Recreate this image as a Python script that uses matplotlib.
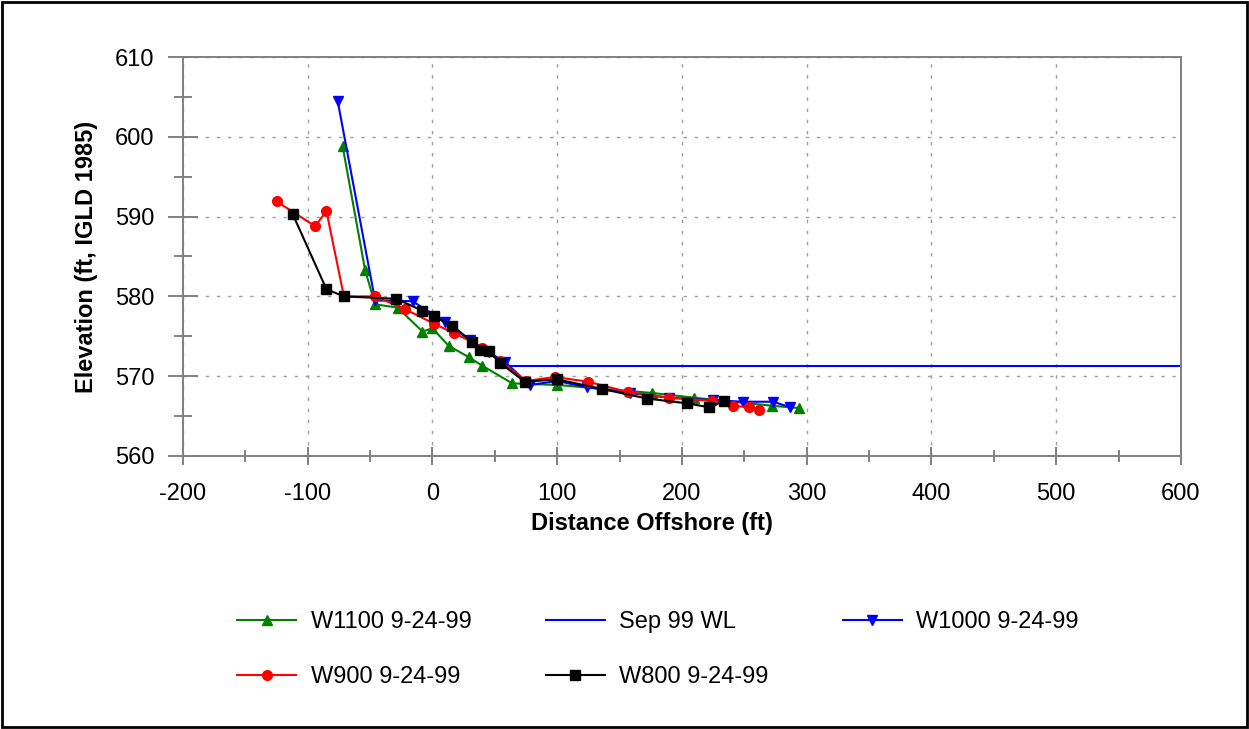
"""Beach profiles, 9-24-99"""
import matplotlib
matplotlib.use("Agg")
import matplotlib.pyplot as plt
from matplotlib.patches import Rectangle

plt.rcParams['font.family'] = ['Liberation Sans', 'DejaVu Sans']
plt.rcParams['axes.unicode_minus'] = False

w1100_x = [-72, -54, -46, -28, -8, 0, 13, 29, 40, 64, 100, 176, 210, 272, 294]
w1100_y = [598.8, 583.3, 579.0, 578.6, 575.6, 576.0, 573.8, 572.4, 571.3, 569.1,
           568.9, 567.9, 567.3, 566.3, 566.0]

wl_x = [60, 600]
wl_y = [571.3, 571.3]

w1000_x = [-76, -46, -16, 10, 30, 45, 58, 78, 100, 124, 158, 190, 225, 249, 273, 287]
w1000_y = [604.5, 579.5, 579.4, 576.8, 574.5, 573.0, 571.8, 568.9, 569.4, 568.6,
           567.9, 567.3, 567.0, 566.8, 566.8, 566.1]

w900_x = [-125, -94, -85, -71, -46, -22, 1, 17, 32, 40, 54, 75, 98, 125, 157, 190,
          224, 241, 254, 262]
w900_y = [591.9, 588.8, 590.7, 580.0, 580.0, 578.4, 576.6, 575.4, 574.3, 573.5,
          571.9, 569.4, 569.9, 569.3, 568.0, 567.3, 566.9, 566.3, 566.1, 565.8]

w800_x = [-112, -85, -71, -29, -8, 1, 16, 32, 38, 45, 54, 74, 100, 136, 172, 204,
          222, 234]
w800_y = [590.3, 580.9, 580.0, 579.7, 578.2, 577.5, 576.3, 574.3, 573.3, 573.2,
          571.7, 569.3, 569.6, 568.4, 567.2, 566.6, 566.1, 566.9]

fig = plt.figure(figsize=(12.49, 7.29), dpi=100)
ax = fig.add_axes([0.1465, 0.3745, 0.799, 0.5473])

lw = 1.5
h1, = ax.plot(w1100_x, w1100_y, color="green", marker="^", ms=7.5, lw=lw, label="W1100 9-24-99")
h2, = ax.plot(wl_x, wl_y, color="blue", lw=lw, label="Sep 99 WL")
h3, = ax.plot(w1000_x, w1000_y, color="blue", marker="v", ms=7.5, lw=lw, label="W1000 9-24-99")
h4, = ax.plot(w900_x, w900_y, color="red", marker="o", ms=7, lw=lw, label="W900 9-24-99")
h5, = ax.plot(w800_x, w800_y, color="black", marker="s", ms=7, lw=lw, label="W800 9-24-99")

ax.set_xlim(-200, 600)
ax.set_ylim(560, 610)
ax.set_xticks(range(-200, 601, 100))
ax.set_xticks(range(-150, 600, 100), minor=True)
ax.set_yticks(range(560, 611, 10))
ax.set_yticks(range(565, 610, 10), minor=True)
ax.grid(True, which="major", color="#a0a0a0", linestyle=(0, (2.5, 5.5)), lw=1)
for s in ax.spines.values():
    s.set_color("#808080")
    s.set_linewidth(1.4)
ax.tick_params(which="both", direction="inout", color="#808080", width=1.4, labelsize=17)
ax.tick_params(axis="y", which="major", length=21, pad=10)
ax.tick_params(axis="y", which="minor", length=13.5)
ax.tick_params(axis="x", which="major", length=13, pad=13)
ax.tick_params(axis="x", which="minor", length=9)
ax.set_xlabel("Distance Offshore (ft)", fontsize=17, fontweight="bold")
ax.xaxis.set_label_coords(0.47, -0.14)
ax.set_ylabel("Elevation (ft, IGLD 1985)", fontsize=17, fontweight="bold", labelpad=12)

order = [h1, h4, h2, h5, h3]
fig.legend(order, [h.get_label() for h in order],
           ncol=3, loc="center left", bbox_to_anchor=(0.19, 0.109),
           frameon=False, fontsize=17, handlelength=2.5, handletextpad=0.6,
           columnspacing=3.15, labelspacing=1.4, borderpad=0, borderaxespad=0)

fig.patches.append(Rectangle((0.002, 0.003), 0.996, 0.994, transform=fig.transFigure,
                             fill=False, edgecolor="black", lw=2))

fig.savefig("out.png", dpi=100)
